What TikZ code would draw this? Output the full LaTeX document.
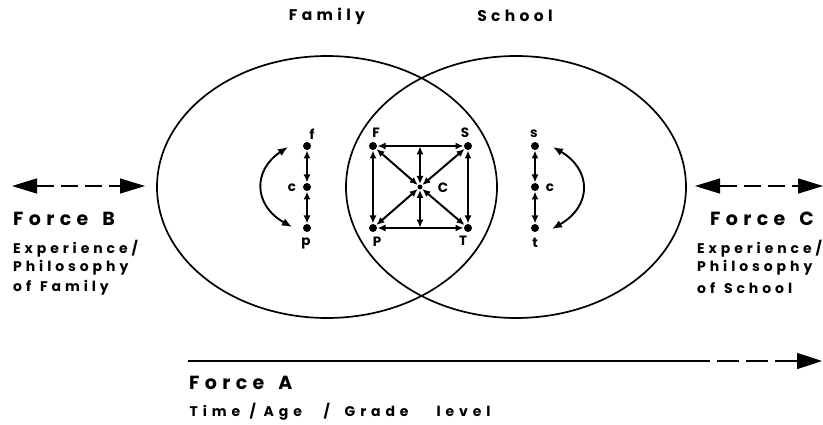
\documentclass[tikz,border=0pt]{standalone}
\usepackage{fontspec}
\setmainfont{Poppins}
\newfontfamily\lblfont[LetterSpace=28]{Poppins}
\newfontfamily\widefont[LetterSpace=35]{Poppins}
\newcommand{\wordat}[2]{\makebox[0pt][l]{\hspace{#1}#2}}
\usetikzlibrary{arrows.meta}
\tikzset{
  dot/.style={circle,fill=black,inner sep=0pt,minimum size=8pt},
  dbl/.style={line width=2pt,{Latex[length=8pt,width=7pt]}-{Latex[length=8pt,width=7pt]},shorten <=0.3pt,shorten >=0.3pt},
  curv/.style={line width=1.9pt,{Latex[length=10pt,width=8pt]}-{Latex[length=10pt,width=8pt]}},
  ring/.style={line width=1.7pt},
  force/.style={line width=1.5pt,dash pattern=on 17pt off 7pt,{Triangle[length=25pt,width=15pt]}-{Triangle[length=25pt,width=15pt]}},
  bigtxt/.style={anchor=west,inner sep=0pt,font=\lblfont\bfseries\fontsize{19}{22}\selectfont},
  smtxt/.style={anchor=west,inner sep=0pt,font=\lblfont\bfseries\fontsize{14}{16}\selectfont},
  widetxt/.style={anchor=west,inner sep=0pt,font=\widefont\bfseries\fontsize{14}{16}\selectfont},
  title/.style={inner sep=0pt,font=\lblfont\bfseries\fontsize{15.5}{18}\selectfont},
  ltr/.style={inner sep=0pt,font=\lblfont\bfseries\fontsize{13.5}{15}\selectfont},
}
\begin{document}
\begin{tikzpicture}[x=1pt,y=-1pt]
\useasboundingbox (0,0) rectangle (823,425);
% circles
\draw[ring] (327,187) ellipse [x radius=170, y radius=131];
\draw[ring] (516,187) ellipse [x radius=170, y radius=131];
% titles
\node[title] (tfam) at (327,16) {Family};
\node[title] (tsch) at (515,16) {School};
% inner square
\node[dot] (F) at (373,146) {};
\node[dot] (S) at (468,146) {};
\node[dot] (P) at (373,228) {};
\node[dot] (T) at (468,228) {};
\node[dot,minimum size=5pt] (C) at (420,187) {};
\coordinate (Mt) at (420,146);
\coordinate (Mb) at (420,228);
\node[ltr] (lF) at (376,133) {F};
\node[ltr] (lS) at (465,133) {S};
\node[ltr] (lP) at (377,242) {P};
\node[ltr] (lT) at (463,241) {T};
\node[ltr] (lC) at (443,188) {C};
\draw[dbl] (F) -- (S);
\draw[dbl] (P) -- (T);
\draw[dbl] (F) -- (P);
\draw[dbl] (S) -- (T);
\draw[dbl] (F) -- (C);
\draw[dbl] (S) -- (C);
\draw[dbl] (P) -- (C);
\draw[dbl] (T) -- (C);
\draw[dbl] (Mt) -- (C);
\draw[dbl] (Mb) -- (C);
% left chain
\node[dot] (f) at (307,146) {};
\node[dot] (cl) at (307,187) {};
\node[dot] (p) at (307,228) {};
\node[ltr] (lf) at (312,134) {f};
\node[ltr] (lcl) at (292,188) {c};
\node[ltr] (lp) at (306,243) {p};
\draw[dbl] (f) -- (cl);
\draw[dbl] (cl) -- (p);
\coordinate (la1) at (288,147);
\coordinate (la2) at (292,227);
\draw[curv] (la1) .. controls (253,170) and (253,205) .. (la2);
% right chain
\node[dot] (s) at (535,146) {};
\node[dot] (cr) at (535,187) {};
\node[dot] (t) at (535,228) {};
\node[ltr] (ls) at (534,134) {s};
\node[ltr] (lcr) at (550,188) {c};
\node[ltr] (lt) at (535,243) {t};
\draw[dbl] (s) -- (cr);
\draw[dbl] (cr) -- (t);
\coordinate (ra1) at (553,147);
\coordinate (ra2) at (552,229);
\draw[curv] (ra1) .. controls (592,170) and (592,206) .. (ra2);
% Force B
\coordinate (B1) at (12,186);
\coordinate (B2) at (145,186);
\draw[force] (B1) -- (B2);
\node[bigtxt] (fb) at (13,219) {Force\hspace{14pt}B};
\node[smtxt] (fb1) at (13,249) {Experience/};
\node[smtxt] (fb2) at (13,268) {Philosophy};
\node[smtxt] (fb3) at (13,288) {of\hspace{9pt}Family};
% Force C
\coordinate (C1) at (695,186);
\coordinate (C2) at (823,186);
\draw[force] (C1) -- (C2);
\node[bigtxt] (fc) at (710,219) {Force\hspace{14pt}C};
\node[smtxt] (fc1) at (697,249) {Experience/};
\node[smtxt] (fc2) at (697,268) {Philosophy};
\node[smtxt] (fc3) at (697,288) {of\hspace{9pt}School};
% Force A
\coordinate (A0) at (188,361);
\coordinate (A1) at (688,361);
\coordinate (A2) at (822,361);
\draw[line width=1.6pt] (A0) -- (A1);
\draw[line width=1.6pt,dash pattern=on 22pt off 7pt,-{Triangle[length=25pt,width=16pt]}] (A1) -- (A2);
\node[bigtxt] (fa) at (189,383) {Force\hspace{14pt}A};
\node[widetxt] (fa1) at (189,412) {\wordat{0pt}{Time}\wordat{60pt}{/}\wordat{74pt}{Age}\wordat{134pt}{/}\wordat{155pt}{Grade}\wordat{247pt}{level}\hspace{296pt}};
\end{tikzpicture}
\end{document}
